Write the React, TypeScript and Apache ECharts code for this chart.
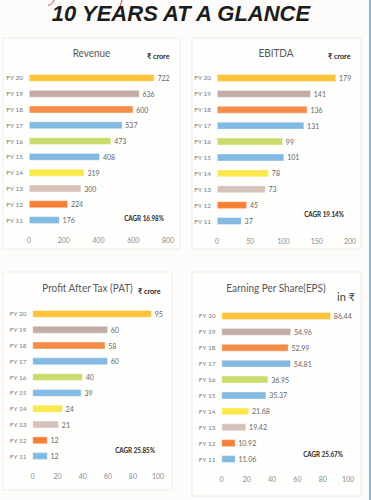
import React, { useEffect, useRef } from "react";
import * as echarts from "echarts";

const categories = ["FY 20", "FY 19", "FY 18", "FY 17", "FY 16", "FY 15", "FY 14", "FY 13", "FY 12", "FY 11"];
const revenue = [722, 636, 600, 537, 473, 408, 319, 300, 224, 176];
const ebitda = [179, 141, 136, 131, 99, 101, 78, 73, 45, 37];
const pat = [95, 60, 58, 60, 40, 39, 24, 21, 12, 12];
const eps = [86.44, 54.96, 52.99, 54.81, 36.95, 35.37, 21.68, 19.42, 10.92, 11.06];
const barColors = ["#FDC33A", "#C3ACA6", "#F68C4A", "#82BAE3", "#CADC6B", "#82BAE3", "#FBE84B", "#D6C2BB", "#F87F36", "#82BAE3"];
const panelTitles = ["Revenue", "EBITDA", "Profit After Tax (PAT)", "Earning Per Share(EPS)"];
const unitLabels = ["₹ crore", "₹ crore", "₹ crore", "in ₹"];
const cagrLabels = ["CAGR 16.98%", "CAGR 19.14%", "CAGR 25.85%", "CAGR 25.67%"];
const axisMax = [800, 200, 100, 100];
const axisStep = [200, 50, 20, 20];
const mainTitle = "10 YEARS AT A GLANCE";

const FONT = "Lato, 'Noto Sans', 'DejaVu Sans', sans-serif";

export default function App() {
  const ref = useRef<HTMLDivElement>(null);
  useEffect(() => {
    if (!ref.current) return;
    const chart = echarts.init(ref.current, undefined, { renderer: "svg" });
    const seriesData = [revenue, ebitda, pat, eps];
    const grids = [
      { left: 29, top: 70, width: 139, height: 158 },
      { left: 217, top: 70, width: 133, height: 159 },
      { left: 32.5, top: 306, width: 125.5, height: 158 },
      { left: 221.5, top: 308, width: 126.5, height: 159 },
    ];
    const panels = [
      { x: 3, y: 38, w: 177, h: 211 },
      { x: 192, y: 38, w: 169, h: 211 },
      { x: 3, y: 272, w: 169, h: 218 },
      { x: 192, y: 272, w: 169, h: 224 },
    ];
    const titlePos = [
      { cx: 91.5, y: 52 },
      { cx: 276, y: 52 },
      { cx: 87.5, y: 287 },
      { cx: 276, y: 287 },
    ];
    const unitPos = [
      { x: 147, y: 56, size: 8, bold: true },
      { x: 328, y: 56, size: 8, bold: true },
      { x: 138, y: 291, size: 8, bold: true },
      { x: 337, y: 296, size: 11, bold: false },
    ];
    const cagrPos = [
      { cx: 144, y: 218 },
      { cx: 324, y: 214 },
      { cx: 135, y: 450 },
      { cx: 323, y: 454 },
    ];

    const graphic: any[] = [
      { type: "rect", shape: { x: 0, y: 0, width: 371, height: 500 }, style: { fill: "#fdfcfa" }, z: -20 },
      { type: "rect", shape: { x: 369, y: 0, width: 2, height: 500 }, style: { fill: "#86b6df" }, z: -5 },
      {
        type: "bezierCurve",
        shape: { x1: 48, y1: 5, x2: 54, y2: 0, cpx1: 50, cpy1: 6, cpx2: 53, cpy2: 3 },
        style: { stroke: "#e23a3a", lineWidth: 1, fill: null },
      },
      {
        type: "line",
        shape: { x1: 120, y1: 7, x2: 122, y2: 0 },
        style: { stroke: "#e23a3a", lineWidth: 1 },
      },
      {
        type: "text",
        x: 181,
        y: 13,
        style: {
          text: mainTitle,
          fill: "#1c1c1c",
          font: "italic bold 22px 'Liberation Sans', Arial, sans-serif",
          align: "center",
          verticalAlign: "middle",
        },
      },
    ];
    panels.forEach((p) => {
      graphic.push({
        type: "rect",
        shape: { x: p.x, y: p.y, width: p.w, height: p.h },
        style: { fill: "#fefefd", stroke: "#f0ebe6", lineWidth: 1 },
        z: -10,
      });
    });
    panelTitles.forEach((t, i) => {
      graphic.push({
        type: "text",
        x: titlePos[i].cx,
        y: titlePos[i].y,
        scaleX: 0.83,
        style: {
          text: t,
          fill: "#595959",
          font: `12px ${FONT}`,
          align: "center",
          verticalAlign: "middle",
        },
      });
    });
    unitLabels.forEach((t, i) => {
      const u = unitPos[i];
      graphic.push({
        type: "text",
        x: u.x,
        y: u.y,
        scaleX: u.bold ? 0.9 : 1,
        style: {
          text: t,
          fill: u.bold ? "#1e1e1e" : "#3c3c3c",
          font: `${u.bold ? "bold " : ""}${u.size}px ${FONT}`,
          align: "left",
          verticalAlign: "middle",
        },
      });
    });
    cagrLabels.forEach((t, i) => {
      graphic.push({
        type: "text",
        x: cagrPos[i].cx,
        y: cagrPos[i].y,
        scaleX: 0.84,
        style: {
          text: t,
          fill: "#262626",
          font: `bold 7.5px ${FONT}`,
          align: "center",
          verticalAlign: "middle",
        },
      });
    });

    const option: any = {
      animation: false,
      backgroundColor: "transparent",
      grid: grids.map((g) => ({ ...g, containLabel: false })),
      xAxis: grids.map((_, i) => ({
        type: "value",
        gridIndex: i,
        min: 0,
        max: axisMax[i],
        interval: axisStep[i],
        axisLine: { show: false },
        axisTick: { show: false },
        splitLine: { show: false },
        axisLabel: { color: "#8c8c8c", fontSize: 7, margin: 8, fontFamily: FONT },
      })),
      yAxis: grids.map((_, i) => ({
        type: "category",
        gridIndex: i,
        inverse: true,
        data: categories,
        axisLine: { show: false },
        axisTick: { show: false },
        splitLine: { show: false },
        axisLabel: { color: "#7a7a7a", fontSize: 6.5, margin: 6, fontFamily: FONT },
      })),
      series: seriesData.map((d, i) => ({
        type: "bar",
        xAxisIndex: i,
        yAxisIndex: i,
        barWidth: 7.5,
        data: d.map((v, k) => ({
          value: v,
          itemStyle: { color: barColors[k], borderColor: "rgba(255,255,255,0.6)", borderWidth: 0.6 },
        })),
        label: {
          show: true,
          position: "right",
          distance: 3,
          color: "#666666",
          fontSize: 7,
          fontFamily: FONT,
          formatter: (p: any) => (i === 3 ? Number(p.value).toFixed(2) : String(p.value)),
        },
      })),
      graphic,
    };
    chart.setOption(option);
    return () => chart.dispose();
  }, []);
  return (
    <div
      ref={ref}
      style={{ position: "fixed", left: 0, top: 0, width: 371, height: 500, background: "#fdfcfa" }}
    />
  );
}
